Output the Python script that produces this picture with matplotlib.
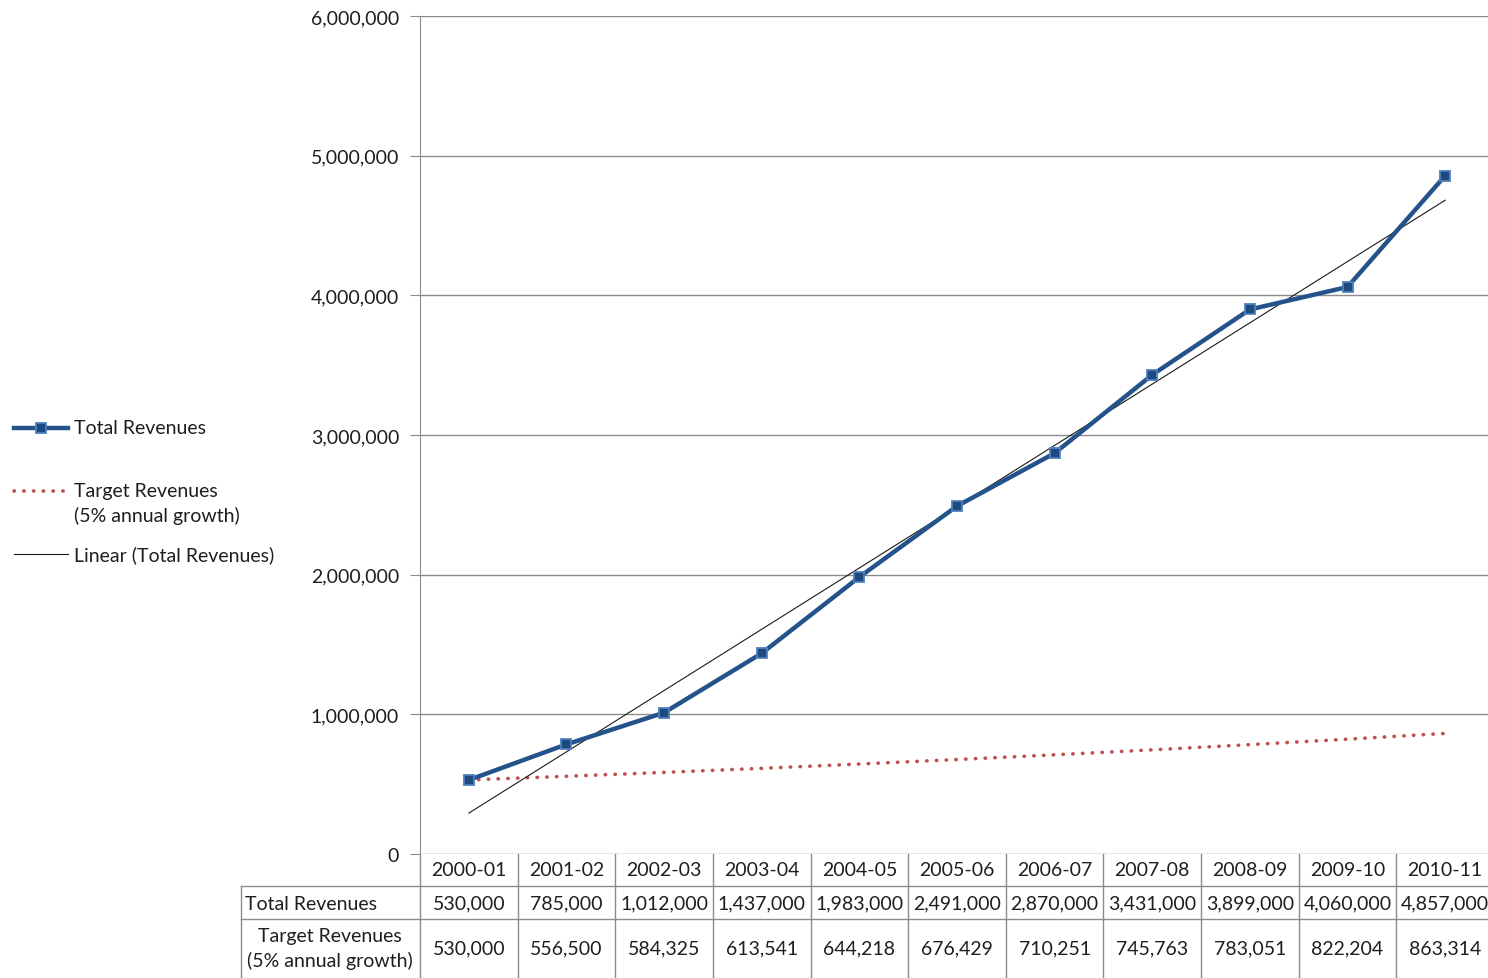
import numpy as np
import matplotlib
matplotlib.use('Agg')
import matplotlib.pyplot as plt
from matplotlib.lines import Line2D
from matplotlib.ticker import FuncFormatter

plt.rcParams['font.family'] = ['Lato', 'DejaVu Sans']

years = ['2000-01', '2001-02', '2002-03', '2003-04', '2004-05', '2005-06',
         '2006-07', '2007-08', '2008-09', '2009-10', '2010-11']
total_revenues = [530000, 785000, 1012000, 1437000, 1983000, 2491000,
                  2870000, 3431000, 3899000, 4060000, 4857000]
target_revenues = [530000, 556500, 584325, 613541, 644218, 676429,
                   710251, 745763, 783051, 822204, 863314]
y_ticks = [0, 1000000, 2000000, 3000000, 4000000, 5000000, 6000000]

W, H = 1488, 979
fig = plt.figure(figsize=(W / 100, H / 100), dpi=100)

# plot area in pixels (right edge runs a little past the image)
px_left, px_right, px_top, px_bottom = 420, 1494, 17, 855
ax = fig.add_axes([px_left / W, 1 - px_bottom / H,
                   (px_right - px_left) / W, (px_bottom - px_top) / H])

blue = '#24528a'
red = '#c0504d'
grid_c = '#8c8c8c'
txt_c = '#1e1e1e'
fs = 14

x = np.arange(len(years))

# trendline (least squares on total revenues)
k, b = np.polyfit(x, total_revenues, 1)
ax.plot(x, k * x + b, color='#1a1a1a', lw=0.8, zorder=3)

ax.plot(x, target_revenues, color=red, lw=2.6, linestyle=(0, (0.1, 2.6)),
        dash_capstyle='round', zorder=2)
ax.plot(x, total_revenues, color=blue, lw=3.2, marker='s', ms=7.5,
        mfc='#1f4a80', mec='#4f81bd', mew=1.3, zorder=4)

ax.set_xlim(-0.5, len(years) - 0.5)
ax.set_ylim(0, 6000000)
ax.set_yticks(y_ticks)
ax.yaxis.set_major_formatter(FuncFormatter(lambda v, p: f'{int(v):,}'))
ax.set_xticks([])
ax.grid(axis='y', color=grid_c, lw=1)
ax.set_axisbelow(True)
for s in ['top', 'right', 'bottom']:
    ax.spines[s].set_visible(False)
ax.spines['left'].set_color(grid_c)
ax.tick_params(axis='y', length=7, color=grid_c, labelsize=fs,
               labelcolor=txt_c, pad=8)

# data table below the axes
pw = px_right - px_left
ph = px_bottom - px_top
def fy(py):
    return (px_bottom - py) / ph
def fx(pxx):
    return (pxx - px_left) / pw

tr = ax.transAxes
label_left = 241
n = len(years)
kw = dict(color=grid_c, lw=1, transform=tr, clip_on=False)
# horizontal lines
ax.add_line(Line2D([fx(label_left), 1], [fy(887), fy(887)], **kw))
ax.add_line(Line2D([fx(label_left), 1], [fy(920), fy(920)], **kw))
# vertical lines
for i in range(n + 1):
    ax.add_line(Line2D([i / n, i / n], [fy(855), fy(990)], **kw))
ax.add_line(Line2D([fx(label_left), fx(label_left)], [fy(887), fy(990)], **kw))

for i in range(n):
    cx = (i + 0.5) / n
    ax.text(cx, fy(871), years[i], ha='center', va='center', fontsize=fs,
            color=txt_c, transform=tr)
    ax.text(cx, fy(904), f'{total_revenues[i]:,}', ha='center', va='center',
            fontsize=fs, color=txt_c, transform=tr)
    ax.text(cx, fy(949), f'{target_revenues[i]:,}', ha='center', va='center',
            fontsize=fs, color=txt_c, transform=tr)
ax.text(fx(245), fy(904), 'Total Revenues', ha='left', va='center',
        fontsize=fs, color=txt_c, transform=tr)
ax.text(fx(330), fy(949), 'Target Revenues\n(5% annual growth)', ha='center',
        va='center', fontsize=fs, color=txt_c, transform=tr, linespacing=1.4)

# legend on the left
def fig_xy(pxx, py):
    return pxx / W, 1 - py / H

lx0, lx1, ltx = 14, 68, 74
y1 = 429
fig.add_artist(Line2D([lx0 / W, lx1 / W], [1 - y1 / H] * 2, color=blue, lw=3.2))
fig.add_artist(Line2D([(lx0 + lx1) / 2 / W], [1 - y1 / H], marker='s', ms=7.5,
                      mfc='#1f4a80', mec='#4f81bd', mew=1.3, lw=0))
fig.text(*fig_xy(ltx, y1), 'Total Revenues', ha='left', va='center',
         fontsize=fs, color=txt_c)
y2 = 492
fig.add_artist(Line2D([lx0 / W, lx1 / W], [1 - y2 / H] * 2, color=red, lw=2.6,
                      linestyle=(0, (0.1, 2.6)), dash_capstyle='round'))
fig.text(*fig_xy(ltx, 504), 'Target Revenues\n(5% annual growth)',
         ha='left', va='center', fontsize=fs, color=txt_c, linespacing=1.5)
y3 = 555
fig.add_artist(Line2D([lx0 / W, lx1 / W], [1 - y3 / H] * 2, color='#1a1a1a', lw=0.8))
fig.text(*fig_xy(ltx, y3), 'Linear (Total Revenues)', ha='left', va='center',
         fontsize=fs, color=txt_c)

fig.savefig('out.png', dpi=100)
